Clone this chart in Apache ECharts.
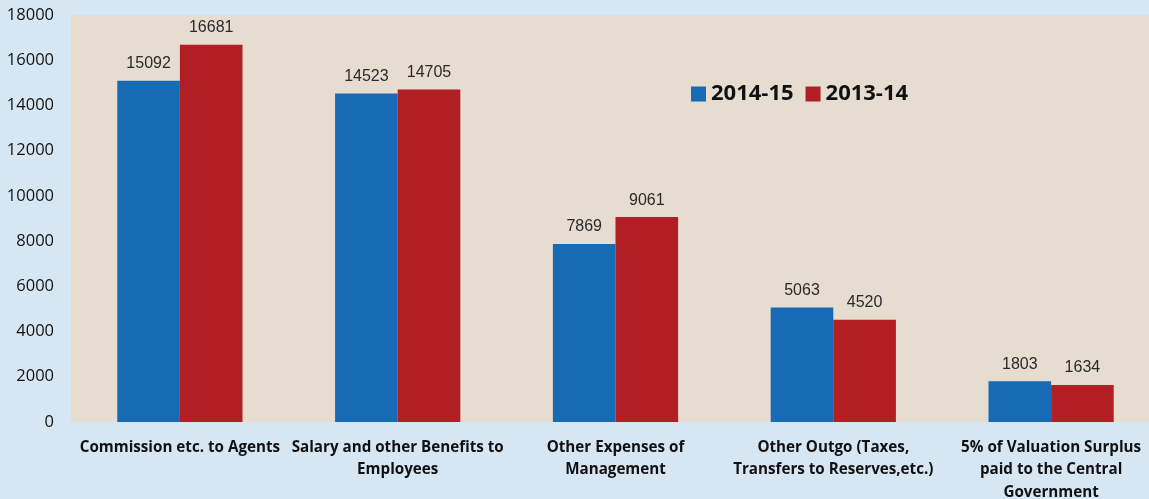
<!DOCTYPE html>
<html>
<head>
<meta charset="utf-8">
<script src="https://cdn.jsdelivr.net/npm/echarts@6/dist/echarts.min.js"></script>
<style>
html,body{margin:0;padding:0;background:#d6e6f3;}
#c{width:1149px;height:499px;}
</style>
</head>
<body>
<div id="c"></div>
<script>
const categories = [
  "Commission etc. to Agents",
  "Salary and other Benefits to\nEmployees",
  "Other Expenses of\nManagement",
  "Other Outgo (Taxes,\nTransfers to Reserves,etc.)",
  "5% of Valuation Surplus\npaid to the Central\nGovernment"
];
const seriesNames = ["2014-15", "2013-14"];
const values2014 = [15092, 14523, 7869, 5063, 1803];
const values2013 = [16681, 14705, 9061, 4520, 1634];
const yTicks = { min: 0, max: 18000, interval: 2000 };

const chart = echarts.init(document.getElementById('c'));
const labelStyle = {
  show: true, position: 'top', distance: 9,
  color: '#2a2a2a', fontSize: 16, fontFamily: 'Liberation Sans, Arial, sans-serif'
};
chart.setOption({
  backgroundColor: '#d6e6f3',
  animation: false,
  graphic: [{ type: 'rect', left: 71, top: 15, shape: { width: 1078, height: 407 }, style: { fill: '#e6ddd0' }, z: -10 }],
  grid: { left: 71, right: -11, top: 15, bottom: 77, borderWidth: 0, containLabel: false, outerBoundsMode: 'none' },
  legend: {
    data: seriesNames,
    left: 686, top: 78,
    itemWidth: 15, itemHeight: 15, itemGap: 12,
    icon: 'rect',
    textStyle: { fontSize: 22, fontWeight: 'bold', color: '#111', fontFamily: 'Open Sans, sans-serif' }
  },
  xAxis: {
    type: 'category',
    data: categories,
    axisLine: { show: false },
    axisTick: { show: false },
    axisLabel: {
      interval: 0, margin: 14, color: '#111', fontSize: 15.2, fontWeight: 'bold',
      fontFamily: 'Open Sans, sans-serif', lineHeight: 22.5
    }
  },
  yAxis: {
    type: 'value',
    min: yTicks.min, max: yTicks.max, interval: yTicks.interval,
    axisLine: { show: false },
    axisTick: { show: false },
    splitLine: { show: false },
    axisLabel: { margin: 17, color: '#111', fontSize: 16.5, fontFamily: 'Open Sans, sans-serif',
      formatter: v => String(v) }
  },
  series: [
    { name: seriesNames[0], type: 'bar', data: values2014, barGap: '0%', barCategoryGap: '42.5%',
      itemStyle: { color: '#176ab4' }, label: labelStyle },
    { name: seriesNames[1], type: 'bar', data: values2013, barGap: '0%', barCategoryGap: '42.5%',
      itemStyle: { color: '#b11f25' }, label: labelStyle }
  ]
});
</script>
</body>
</html>
